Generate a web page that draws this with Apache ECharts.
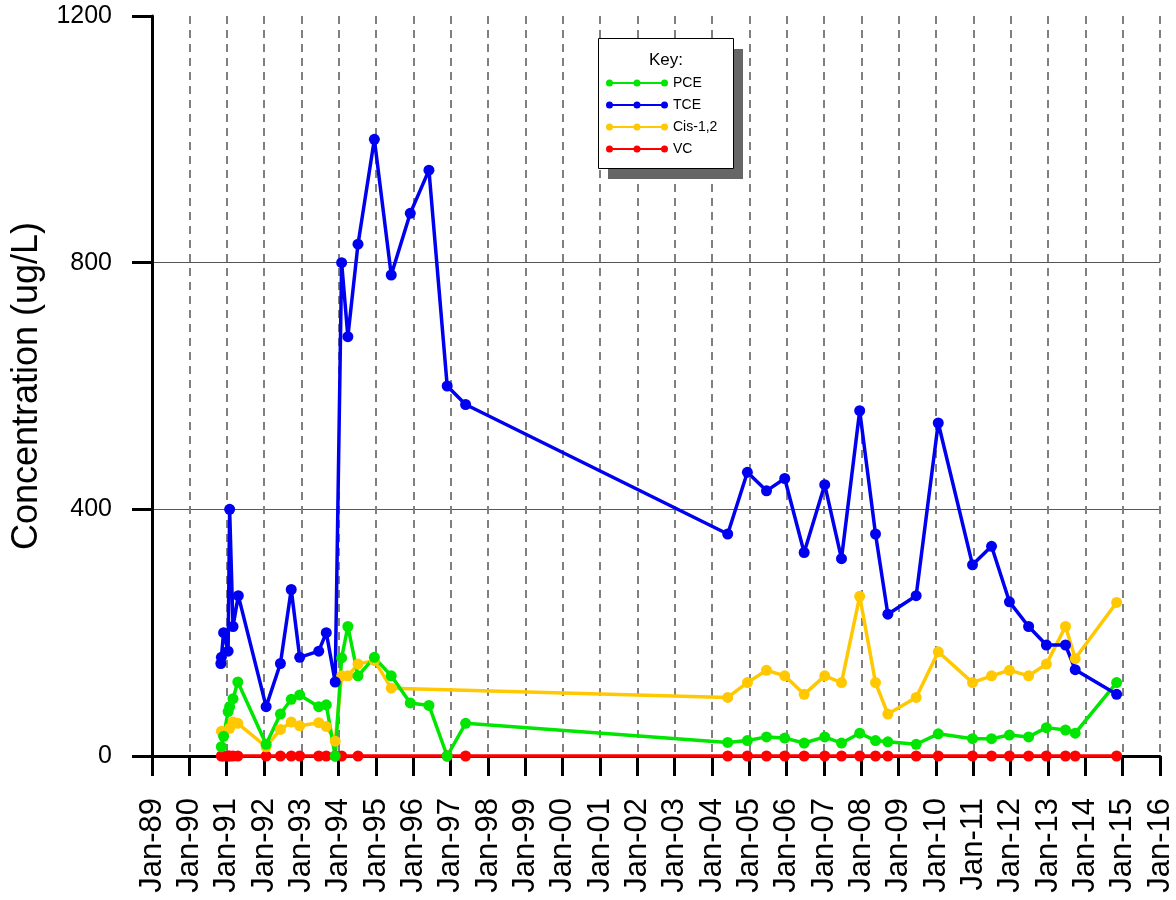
<!DOCTYPE html>
<html>
<head>
<meta charset="utf-8">
<title>Concentration history</title>
<script src="https://cdn.jsdelivr.net/npm/echarts@6/dist/echarts.min.js"></script>
<style>
  html, body { margin: 0; padding: 0; background: #ffffff; }
  #chart { width: 1176px; height: 900px; }
</style>
</head>
<body>
<div id="chart"></div>
<script>
// Sampling dates and concentrations (ug/L) for each compound
const tceDates = ['1990-11-05','1990-11-10','1990-12-02','1991-01-15','1991-01-30','1991-03-04','1991-04-25',
  '1992-01-22','1992-06-10','1992-09-24','1992-12-16','1993-06-20','1993-09-02','1993-11-28',
  '1994-01-30','1994-04-01','1994-07-09','1994-12-16','1995-05-30','1995-12-02','1996-06-02','1996-11-28','1997-05-27',
  '2004-06-03','2004-12-13','2005-06-18','2005-12-13','2006-06-21','2007-01-08','2007-06-21','2007-12-16',
  '2008-05-19','2008-09-17','2009-06-21','2010-01-23','2010-12-24','2011-06-28','2011-12-20','2012-06-25',
  '2012-12-16','2013-06-21','2013-09-24','2014-11-03'];
const tceValues = [150, 160, 200, 170, 400, 210, 260,
  80, 150, 270, 160, 170, 200, 120,
  800, 680, 830, 1000, 780, 880, 950, 600, 570,
  360, 460, 430, 450, 330, 440, 320, 560,
  360, 230, 260, 540, 310, 340, 250, 210,
  180, 180, 140, 100];

const pceDates = ['1990-11-10','1990-12-02','1991-01-15','1991-01-30','1991-03-04','1991-04-20',
  '1992-01-22','1992-06-10','1992-09-24','1992-12-16','1993-06-20','1993-09-02','1993-11-28',
  '1994-01-30','1994-04-01','1994-07-09','1994-12-16','1995-05-30','1995-12-02','1996-06-02','1996-11-28','1997-05-27',
  '2004-06-03','2004-12-13','2005-06-18','2005-12-13','2006-06-21','2007-01-08','2007-06-21','2007-12-16',
  '2008-05-19','2008-09-17','2009-06-21','2010-01-23','2010-12-24','2011-06-28','2011-12-20','2012-06-25',
  '2012-12-16','2013-06-21','2013-09-24','2014-11-03'];
const pceValues = [15, 32, 72, 80, 93, 120,
  19, 68, 92, 99, 80, 83, 0,
  159, 210, 130, 160, 130, 86, 82, 0, 53,
  22, 25, 31, 29, 21, 31, 21, 37,
  25, 23, 19, 36, 28, 28, 34, 31,
  46, 42, 37, 119];

const cisDates = ['1990-11-10','1990-12-02','1991-01-30','1991-03-04','1991-04-20',
  '1992-01-22','1992-06-10','1992-09-24','1992-12-16','1993-06-20','1993-09-02','1993-11-28',
  '1994-01-30','1994-04-01','1994-07-09','1994-12-16','1995-05-30',
  '2004-06-03','2004-12-13','2005-06-18','2005-12-13','2006-06-21','2007-01-08','2007-06-21','2007-12-16',
  '2008-05-19','2008-09-17','2009-06-21','2010-01-23','2010-12-24','2011-06-28','2011-12-20','2012-06-25',
  '2012-12-16','2013-06-21','2013-09-24','2014-11-03'];
const cisValues = [40, 35, 45, 55, 53,
  15, 43, 55, 49, 54, 48, 24,
  130, 130, 149, 155, 110,
  95, 119, 139, 130, 100, 130, 119, 259,
  119, 68, 95, 169, 119, 130, 139, 130,
  149, 210, 158, 249];

const vcDates = ['1990-11-10','1990-12-02','1991-01-15','1991-01-30','1991-03-04','1991-04-20',
  '1992-01-22','1992-06-10','1992-09-24','1992-12-16','1993-06-20','1993-09-02','1993-11-28',
  '1994-01-30','1994-07-09','1996-11-28','1997-05-27',
  '2004-06-03','2004-12-13','2005-06-18','2005-12-13','2006-06-21','2007-01-08','2007-06-21','2007-12-16',
  '2008-05-19','2008-09-17','2009-06-21','2010-01-23','2010-12-24','2011-06-28','2011-12-20','2012-06-25',
  '2012-12-16','2013-06-21','2013-09-24','2014-11-03'];
const vcValues = [0, 0, 0, 0, 0, 0,
  0, 0, 0, 0, 0, 0, 0,
  0, 0, 0, 0,
  0, 0, 0, 0, 0, 0, 0, 0,
  0, 0, 0, 0, 0, 0, 0, 0,
  0, 0, 0, 0];

// Axis ranges
const firstYear = 1989;
const lastYear = 2016;
const yTicks = [0, 400, 800, 1200];

const legendNames = ['PCE', 'TCE', 'Cis-1,2', 'VC'];
const colors = { 'PCE': '#00E600', 'TCE': '#0000F0', 'Cis-1,2': '#FFC800', 'VC': '#FF0000' };

const FONT = '"Liberation Sans", Arial, Helvetica, sans-serif';

// Convert a date string to a fractional year for the value axis
function toYear(s) {
  const [y, m, d] = s.split('-').map(Number);
  const start = Date.UTC(y, 0, 1);
  const end = Date.UTC(y + 1, 0, 1);
  return y + (Date.UTC(y, m - 1, d) - start) / (end - start);
}
function pairs(dates, values) {
  return dates.map((d, i) => [toYear(d), values[i]]);
}

function lineSeries(name, dates, values) {
  return {
    name: name,
    type: 'line',
    data: pairs(dates, values),
    symbol: 'circle',
    symbolSize: 11,
    showSymbol: true,
    clip: false,
    color: colors[name],
    lineStyle: { color: colors[name], width: 3.5 },
    itemStyle: { color: colors[name], borderWidth: 0 },
    emphasis: { disabled: true }
  };
}

// Legend icon: a short line with three dots
const keyIcon = 'path://M3.5,2.5 L58.5,2.5 L58.5,4.5 L3.5,4.5 Z ' +
  'M0,3.5 A3.5,3.5 0 1,1 7,3.5 A3.5,3.5 0 1,1 0,3.5 Z ' +
  'M27.5,3.5 A3.5,3.5 0 1,1 34.5,3.5 A3.5,3.5 0 1,1 27.5,3.5 Z ' +
  'M55,3.5 A3.5,3.5 0 1,1 62,3.5 A3.5,3.5 0 1,1 55,3.5 Z';

// Key box geometry
const keyBox = { x: 598, y: 38, w: 135, h: 130, shadow: 10 };

const chart = echarts.init(document.getElementById('chart'), null, { renderer: 'canvas' });

chart.setOption({
  animation: false,
  backgroundColor: '#ffffff',
  textStyle: { fontFamily: FONT },
  grid: { left: 152, right: 16, top: 16, bottom: 144, containLabel: false, outerBoundsMode: 'none' },
  legend: {
    data: legendNames,
    orient: 'vertical',
    left: keyBox.x,
    top: keyBox.y,
    padding: [38, 16, 12, 8],
    itemGap: 8,
    itemWidth: 62,
    itemHeight: 7,
    icon: keyIcon,
    itemStyle: { borderWidth: 0 },
    selectedMode: false,
    textStyle: { fontFamily: FONT, fontSize: 14, color: '#000000' }
  },
  graphic: [
    {
      type: 'rect',
      z: 3,
      shape: { x: keyBox.x + keyBox.shadow, y: keyBox.y + keyBox.shadow + 1, width: keyBox.w, height: keyBox.h },
      style: { fill: '#666666' }
    },
    {
      type: 'rect',
      z: 3,
      shape: { x: keyBox.x + 0.5, y: keyBox.y + 0.5, width: keyBox.w, height: keyBox.h },
      style: { fill: '#ffffff', stroke: '#000000', lineWidth: 1 }
    },
    {
      type: 'text',
      x: 666,
      y: 60,
      z: 100,
      style: {
        text: 'Key:',
        fontFamily: FONT,
        fontSize: 17,
        fill: '#000000',
        align: 'center',
        verticalAlign: 'middle'
      }
    }
  ],
  xAxis: {
    type: 'value',
    min: firstYear,
    max: lastYear,
    interval: 1,
    axisLine: { show: true, onZero: false, lineStyle: { color: '#000000', width: 3 } },
    axisTick: { show: true, inside: false, length: 20, lineStyle: { color: '#000000', width: 3 } },
    axisLabel: {
      rotate: 90,
      margin: 42,
      fontFamily: FONT,
      fontSize: 31,
      color: '#000000',
      formatter: v => 'Jan-' + String(Math.round(v) % 100).padStart(2, '0')
    },
    splitLine: {
      show: true,
      showMinLine: false,
      lineStyle: { color: '#808080', width: 2, type: [8, 6] }
    }
  },
  yAxis: {
    type: 'value',
    min: yTicks[0],
    max: yTicks[yTicks.length - 1],
    interval: yTicks[1] - yTicks[0],
    name: 'Concentration (ug/L)',
    nameLocation: 'middle',
    nameGap: 104,
    nameTextStyle: { fontFamily: FONT, fontSize: 36, color: '#000000' },
    axisLine: { show: true, lineStyle: { color: '#000000', width: 3 } },
    axisTick: { show: true, inside: false, length: 20, lineStyle: { color: '#000000', width: 3 } },
    axisLabel: { margin: 40, fontFamily: FONT, fontSize: 25, color: '#000000', formatter: v => String(v) },
    splitLine: {
      show: true,
      showMinLine: false,
      showMaxLine: false,
      lineStyle: { color: '#555555', width: 1, type: 'solid' }
    }
  },
  series: [
    lineSeries('VC', vcDates, vcValues),
    lineSeries('Cis-1,2', cisDates, cisValues),
    lineSeries('PCE', pceDates, pceValues),
    lineSeries('TCE', tceDates, tceValues)
  ]
});
</script>
</body>
</html>
